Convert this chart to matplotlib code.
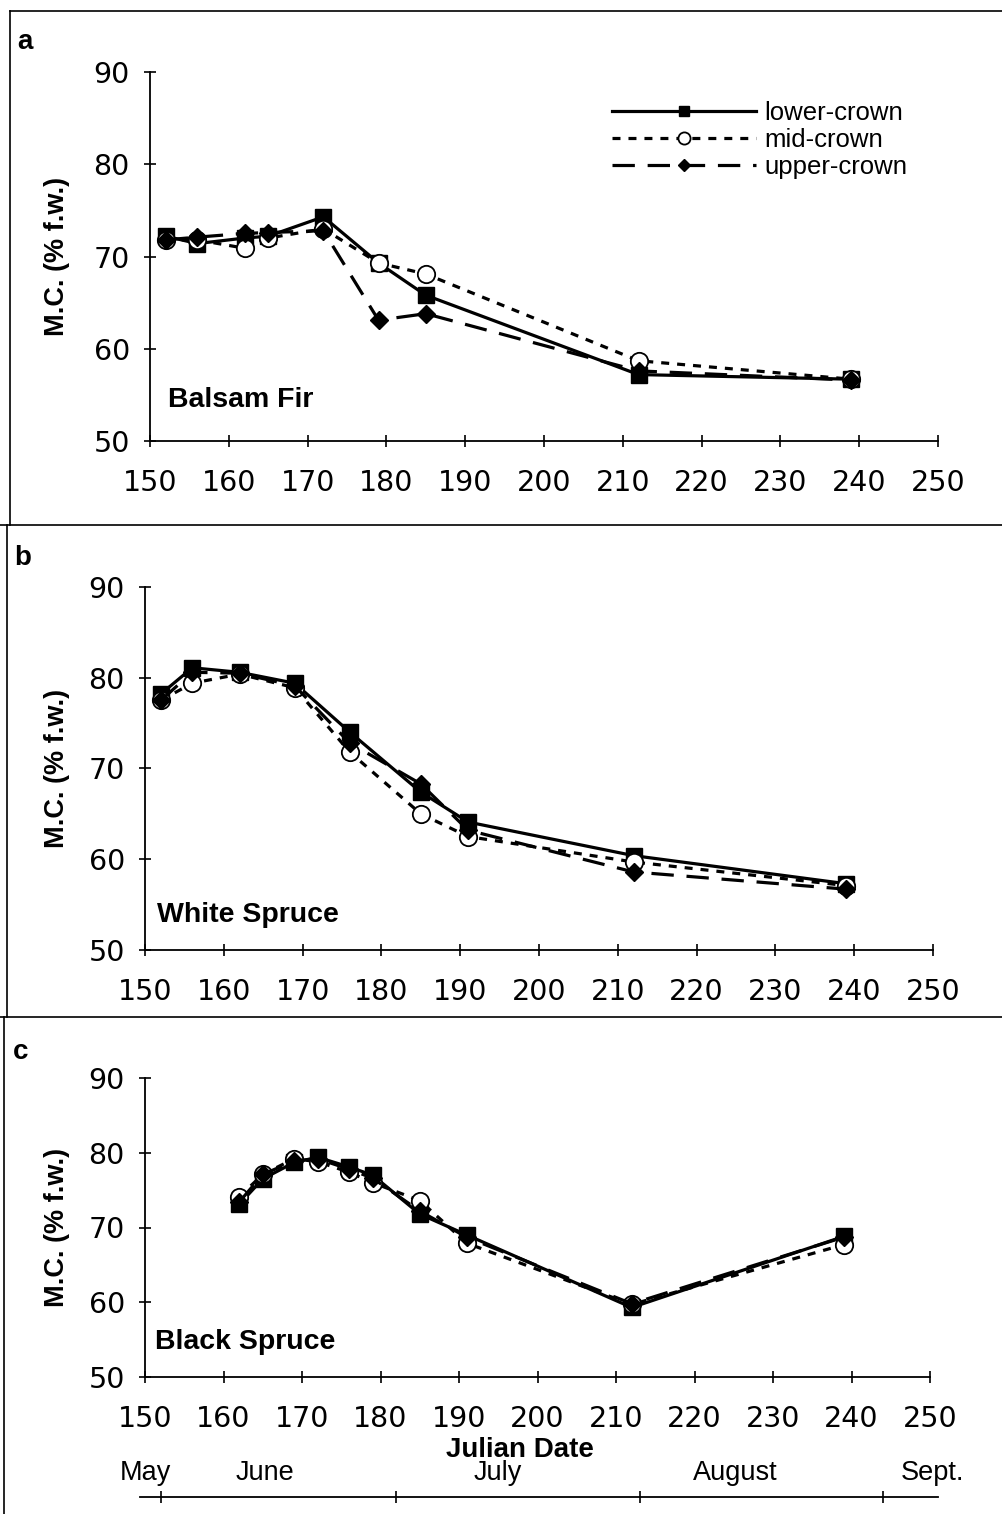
import matplotlib.pyplot as plt
from matplotlib.lines import Line2D

# Julian dates sampled for each species
days_fir = [152, 156, 162, 165, 172, 179, 185, 212, 239]
days_white = [152, 156, 162, 169, 176, 185, 191, 212, 239]
days_black = [162, 165, 169, 172, 176, 179, 185, 191, 212, 239]

# Moisture content (% fresh weight) by crown position
fir_lower = [72.2, 71.4, 72.0, 72.2, 74.3, 69.3, 65.8, 57.2, 56.7]
fir_mid = [71.8, 71.8, 70.9, 72.0, 73.0, 69.3, 68.1, 58.7, 56.7]
fir_upper = [71.8, 72.1, 72.5, 72.6, 72.8, 63.1, 63.8, 57.6, 56.6]

white_lower = [78.2, 81.1, 80.6, 79.4, 74.0, 67.4, 64.1, 60.4, 57.3]
white_mid = [77.5, 79.4, 80.4, 78.9, 71.8, 65.0, 62.5, 59.7, 57.1]
white_upper = [77.5, 80.6, 80.5, 79.1, 72.8, 68.3, 63.2, 58.6, 56.7]

black_lower = [73.1, 76.5, 78.7, 79.4, 78.1, 77.0, 71.8, 69.0, 59.3, 68.8]
black_mid = [74.1, 77.1, 79.2, 78.8, 77.4, 76.0, 73.6, 67.9, 59.7, 67.7]
black_upper = [73.4, 77.1, 78.9, 79.2, 77.8, 76.6, 72.2, 68.7, 59.8, 68.7]

species = ['Balsam Fir', 'White Spruce', 'Black Spruce']
panel_letters = ['a', 'b', 'c']
crowns = ['lower-crown', 'mid-crown', 'upper-crown']

# month boundaries on the Julian scale and where their names sit
month_starts = [152, 182, 213, 244]
month_names = ['May', 'June', 'July', 'August', 'Sept.']
month_label_x = [150.1, 165.3, 195.0, 225.2, 250.3]

series = [
    (days_fir, [fir_lower, fir_mid, fir_upper]),
    (days_white, [white_lower, white_mid, white_upper]),
    (days_black, [black_lower, black_mid, black_upper]),
]

styles = [
    dict(color='black', lw=2.3, ls='-', marker='s', ms=11, mfc='black', mec='black'),
    dict(color='black', lw=2.3, ls=(0, (2.5, 2.5)), marker='o', ms=12.5, mfc='white', mec='black', mew=1.3),
    dict(color='black', lw=2.3, ls=(0, (7, 4)), marker='D', ms=9, mfc='black', mec='black'),
]

W, H = 1003, 1514
fig = plt.figure(figsize=(W / 100, H / 100), dpi=100)

# axes boxes in pixels: left, right, top, bottom
boxes = [(150, 938, 72, 441), (145, 933, 587, 950), (145, 930, 1078, 1377)]
text_pos = [(168, 400), (157, 915), (155, 1342)]
letter_pos = [(17, 42), (14, 558), (13, 1052)]

axes = []
for i, (l, r, t, b) in enumerate(boxes):
    ax = fig.add_axes([l / W, 1 - b / H, (r - l) / W, (b - t) / H])
    days, vals = series[i]
    for v, st, name in zip(vals, styles, crowns):
        ax.plot(days, v, label=name, clip_on=False, **st)
    ax.set_xlim(150, 250)
    ax.set_ylim(50, 90)
    ax.set_xticks(range(150, 251, 10))
    ax.set_yticks(range(50, 91, 10))
    for s in ['top', 'right']:
        ax.spines[s].set_visible(False)
    for s in ['left', 'bottom']:
        ax.spines[s].set_linewidth(1.3)
    ax.tick_params(axis='both', direction='inout', length=9, width=1.2,
                   labelsize=20.5)
    ax.tick_params(axis='x', pad=16)
    ax.tick_params(axis='y', pad=10)
    for lab in ax.get_xticklabels() + ax.get_yticklabels():
        lab.set_family('DejaVu Sans')
    ax.set_ylabel('M.C. (% f.w.)', fontsize=19.5, fontweight='bold',
                  family='Liberation Sans', labelpad=10)
    ax.yaxis.set_label_coords(-(l - 70) / (r - l), 0.5)
    fig.text(text_pos[i][0] / W, 1 - text_pos[i][1] / H, species[i],
             fontsize=20.5, fontweight='bold', family='Liberation Sans', va='center')
    fig.text(letter_pos[i][0] / W, 1 - letter_pos[i][1] / H, panel_letters[i],
             fontsize=20, fontweight='bold', family='Liberation Sans', va='center')
    axes.append(ax)

# legend in the first panel
handles = [Line2D([], [], **st) for st in styles]
for h in handles:
    h.set_markersize(h.get_markersize() * 0.7)
axes[0].legend(handles, crowns, loc='upper right', bbox_to_anchor=(0.99, 0.985),
               frameon=False, handlelength=5.6, handletextpad=0.3,
               labelspacing=0.12, numpoints=1,
               prop={'family': 'Liberation Sans', 'size': 18.5})

# x label and month strip under the last panel
ax_c = axes[2]
ax_c.set_xlabel('Julian Date', fontsize=20, fontweight='bold', family='Liberation Sans')
ax_c.xaxis.set_label_coords((520 - 145) / (930 - 145), -(1450 - 1377) / (1377 - 1078))
ax_c.xaxis.label.set_va('center')

l, r = boxes[2][0], boxes[2][1]
ax_m = fig.add_axes([l / W, 1 - 1497 / H, (r - l) / W, 0.0001])
ax_m.set_xlim(150, 250)
ax_m.set_ylim(0, 1)
for s in ['top', 'right', 'left']:
    ax_m.spines[s].set_visible(False)
ax_m.spines['bottom'].set_linewidth(1.3)
ax_m.spines['bottom'].set_bounds(149.3, 251)
ax_m.set_yticks([])
ax_m.set_xticks(month_starts)
ax_m.tick_params(axis='x', direction='inout', length=9, width=1.2, labelbottom=False)
ax_m.patch.set_visible(False)
for x, name in zip(month_label_x, month_names):
    fig.text((l + (x - 150) / 100 * (r - l)) / W, 1 - 1473 / H, name,
             ha='center', va='center', fontsize=19.5, family='Liberation Sans')

# panel frame lines
for y0, x0, x1 in [(11, 10, W), (525, 0, W), (1017, 0, W)]:
    fig.add_artist(Line2D([x0 / W, x1 / W], [1 - y0 / H, 1 - y0 / H],
                          color='black', lw=1.2, transform=fig.transFigure))
for x0, y0, y1 in [(10, 11, 525), (7, 525, 1017), (4, 1017, H)]:
    fig.add_artist(Line2D([x0 / W, x0 / W], [1 - y0 / H, 1 - y1 / H],
                          color='black', lw=1.2, transform=fig.transFigure))

fig.savefig('out.png', dpi=100, facecolor='white')
